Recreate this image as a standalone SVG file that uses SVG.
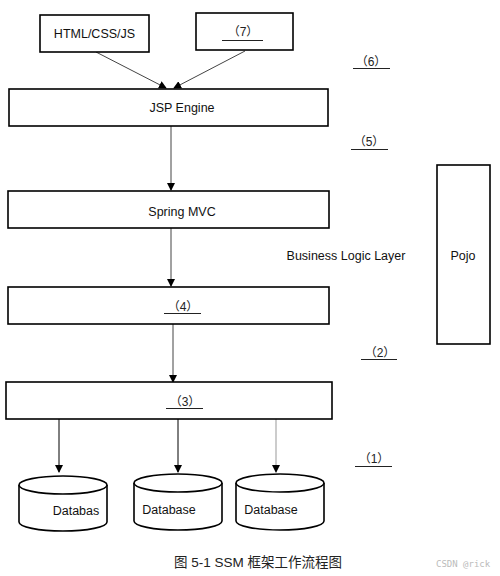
<svg xmlns="http://www.w3.org/2000/svg" width="500" height="576" viewBox="0 0 500 576">
<style>
.box{fill:#fff;stroke:#000;stroke-width:1.6}
.t{font-family:"Liberation Sans","Noto Sans CJK SC",sans-serif;font-size:12.5px;fill:#111;text-anchor:middle}
.c{font-family:"Liberation Sans","Noto Sans CJK SC",sans-serif;font-size:12px;fill:#222;text-anchor:middle}
.ul{stroke:#222;stroke-width:1}
.conn{stroke:#444;stroke-width:1;fill:none;marker-end:url(#ah)}
.cyl{fill:#fff;stroke:#000;stroke-width:1.6}
</style>
<defs>
<marker id="ah" markerWidth="8" markerHeight="8" refX="7" refY="4" orient="auto" markerUnits="userSpaceOnUse">
<path d="M0,0 L8,4 L0,8 Z" fill="#000"/>
</marker>
</defs>
<rect width="500" height="576" fill="#fff"/>

<g id="connectors">
<line class="conn" x1="96" y1="52" x2="166" y2="88"/>
<line class="conn" x1="245" y1="51" x2="174" y2="88"/>
<line class="conn" x1="171" y1="126" x2="171" y2="190"/>
<line class="conn" x1="171" y1="228" x2="171" y2="286"/>
<line class="conn" x1="173" y1="324" x2="173" y2="382"/>
<line class="conn" x1="59" y1="419" x2="59" y2="472" style="stroke:#000"/>
<line class="conn" x1="178" y1="419" x2="178" y2="472" style="stroke:#000"/>
<line class="conn" x1="276" y1="419" x2="276" y2="472" style="stroke:#999"/>
</g>

<g id="html">
<rect class="box" x="40" y="15" width="109" height="37"/>
<text class="t" x="94.5" y="38">HTML/CSS/JS</text>
</g>
<g id="n7">
<rect class="box" x="196" y="13" width="97" height="37"/>
<text class="c" x="243" y="36">（7）</text>
<line class="ul" x1="222" y1="40.5" x2="263" y2="40.5"/>
</g>
<g id="l6">
<text class="c" x="371" y="66">（6）</text>
<line class="ul" x1="353" y1="68.5" x2="390" y2="68.5"/>
</g>
<g id="jsp">
<rect class="box" x="9" y="89" width="319" height="37"/>
<text class="t" x="182" y="112">JSP Engine</text>
</g>
<g id="l5">
<text class="c" x="369" y="146">（5）</text>
<line class="ul" x1="351" y1="149.5" x2="388" y2="149.5"/>
</g>
<g id="spring">
<rect class="box" x="8" y="191" width="321" height="37"/>
<text class="t" x="182" y="216">Spring MVC</text>
</g>
<g id="bll">
<text class="t" x="346" y="260">Business Logic Layer</text>
</g>
<g id="pojo">
<rect class="box" x="437" y="165" width="53" height="179"/>
<text class="t" x="463" y="260">Pojo</text>
</g>
<g id="n4">
<rect class="box" x="8" y="287" width="321" height="37"/>
<text class="c" x="183" y="311">（4）</text>
<line class="ul" x1="164" y1="313.5" x2="201" y2="313.5"/>
</g>
<g id="l2">
<text class="c" x="380" y="357">（2）</text>
<line class="ul" x1="361" y1="359.5" x2="397" y2="359.5"/>
</g>
<g id="n3">
<rect class="box" x="6" y="382" width="326" height="37"/>
<text class="c" x="185" y="406">（3）</text>
<line class="ul" x1="166" y1="408.5" x2="203" y2="408.5"/>
</g>
<g id="l1">
<text class="c" x="374" y="463">（1）</text>
<line class="ul" x1="355" y1="466.5" x2="392" y2="466.5"/>
</g>
<g id="db1">
<path class="cyl" d="M19,485 L19,522 A44,9 0 0 0 107,522 L107,485"/>
<ellipse class="cyl" cx="63" cy="485" rx="44" ry="9"/>
<text class="t" x="76" y="515">Databas</text>
</g>
<g id="db2">
<path class="cyl" d="M134,483 L134,521 A44,9 0 0 0 222,521 L222,483"/>
<ellipse class="cyl" cx="178" cy="483" rx="44" ry="9"/>
<text class="t" x="169" y="514">Database</text>
</g>
<g id="db3">
<path class="cyl" d="M236,483 L236,521 A44,9 0 0 0 324,521 L324,483"/>
<ellipse class="cyl" cx="280" cy="483" rx="44" ry="9"/>
<text class="t" x="271" y="514">Database</text>
</g>
<g id="caption">
<text x="258" y="567" style="font-family:'Liberation Sans','Noto Sans CJK SC',sans-serif;font-size:13.5px;fill:#222;text-anchor:middle">图 5-1 SSM 框架工作流程图</text>
<text x="436" y="567" style="font-family:'DejaVu Sans Mono',monospace;font-size:9px;fill:#bbb">CSDN @rick</text>
</g>
</svg>
